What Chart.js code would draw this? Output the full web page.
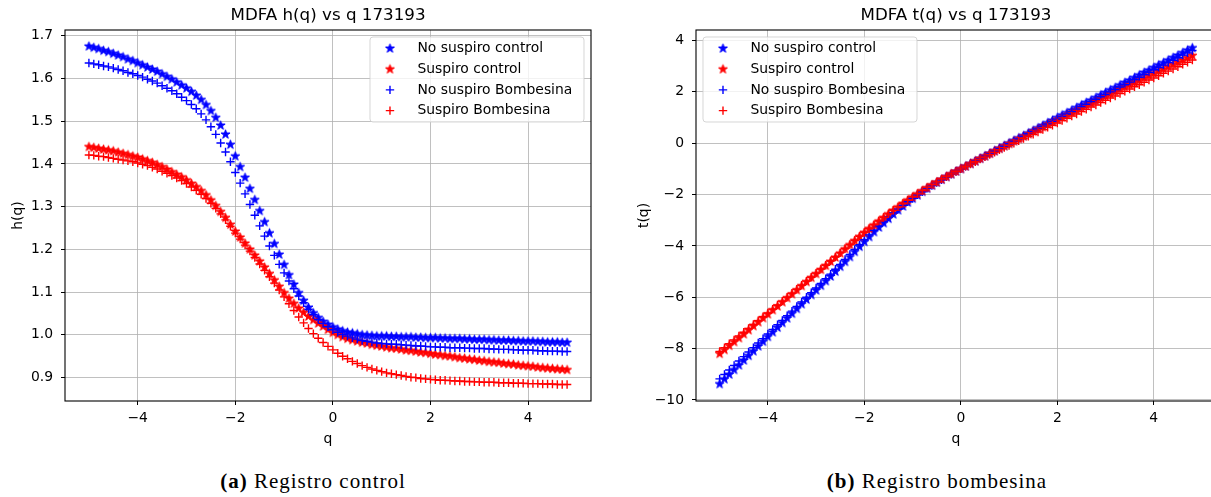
<!DOCTYPE html>
<html><head><meta charset="utf-8">
<script src="https://cdn.jsdelivr.net/npm/chart.js@4.4.0/dist/chart.umd.min.js"></script>
<style>
html,body{margin:0;padding:0;background:#fff;width:1211px;height:497px;overflow:hidden;}
#c1{position:absolute;left:0;top:0;}
#c2{position:absolute;left:605px;top:0;}
.cap{position:absolute;top:469px;font-family:"Liberation Serif",serif;font-size:21px;letter-spacing:1px;color:#000;white-space:nowrap;transform:translateX(-50%);}
</style></head><body>
<canvas id="c1" width="605" height="450"></canvas>
<canvas id="c2" width="620" height="450"></canvas>
<div class="cap" style="left:313px"><b>(a)</b> Registro control</div>
<div class="cap" style="left:937px"><b>(b)</b> Registro bombesina</div>
<script>
const q = [-5.0,-4.9,-4.8,-4.7,-4.6,-4.5,-4.4,-4.3,-4.2,-4.1,-4.0,-3.9,-3.8,-3.7,-3.6,-3.5,-3.4,-3.3,-3.2,-3.1,-3.0,-2.9,-2.8,-2.7,-2.6,-2.5,-2.4,-2.3,-2.2,-2.1,-2.0,-1.9,-1.8,-1.7,-1.6,-1.5,-1.4,-1.3,-1.2,-1.1,-1.0,-0.9,-0.8,-0.7,-0.6,-0.5,-0.4,-0.3,-0.2,-0.1,0.0,0.1,0.2,0.3,0.4,0.5,0.6,0.7,0.8,0.9,1.0,1.1,1.2,1.3,1.4,1.5,1.6,1.7,1.8,1.9,2.0,2.1,2.2,2.3,2.4,2.5,2.6,2.7,2.8,2.9,3.0,3.1,3.2,3.3,3.4,3.5,3.6,3.7,3.8,3.9,4.0,4.1,4.2,4.3,4.4,4.5,4.6,4.7,4.8];

const seriesLabels = ['No suspiro control','Suspiro control','No suspiro Bombesina','Suspiro Bombesina'];

// h(q) - Registro control
const hNoSuspiroControl = [1.675,1.672,1.669,1.665,1.662,1.658,1.654,1.650,1.645,1.641,
1.636,1.631,1.626,1.621,1.616,1.610,1.604,1.598,1.591,1.584,
1.577,1.569,1.560,1.550,1.538,1.524,1.508,1.490,1.469,1.445,
1.418,1.393,1.368,1.342,1.316,1.290,1.264,1.238,1.213,1.188,
1.164,1.140,1.118,1.098,1.080,1.064,1.051,1.040,1.031,1.024,
1.018,1.013,1.009,1.006,1.004,1.002,1.000,0.999,0.998,0.997,
0.997,0.997,0.996,0.996,0.995,0.995,0.995,0.994,0.994,0.993,
0.993,0.993,0.992,0.992,0.991,0.991,0.991,0.990,0.990,0.989,
0.989,0.989,0.988,0.988,0.987,0.987,0.987,0.986,0.986,0.985,
0.985,0.985,0.984,0.984,0.983,0.983,0.983,0.982,0.982];
const hSuspiroControl = [1.440,1.438,1.436,1.434,1.432,1.430,1.427,1.424,1.421,1.418,
1.415,1.411,1.407,1.403,1.398,1.393,1.387,1.381,1.375,1.369,
1.362,1.354,1.346,1.337,1.327,1.315,1.302,1.288,1.274,1.258,
1.242,1.228,1.214,1.200,1.186,1.172,1.158,1.143,1.128,1.113,
1.098,1.085,1.073,1.062,1.052,1.043,1.035,1.027,1.020,1.012,
1.005,1.000,0.995,0.991,0.988,0.985,0.982,0.980,0.977,0.975,
0.973,0.971,0.969,0.968,0.966,0.964,0.963,0.961,0.959,0.958,
0.956,0.954,0.953,0.951,0.950,0.948,0.946,0.945,0.943,0.942,
0.940,0.939,0.937,0.936,0.935,0.933,0.932,0.931,0.929,0.928,
0.927,0.926,0.924,0.923,0.922,0.921,0.920,0.919,0.918];
const hNoSuspiroBombesina = [1.636,1.634,1.632,1.629,1.627,1.624,1.621,1.618,1.614,1.611,
1.607,1.603,1.598,1.594,1.589,1.583,1.577,1.571,1.564,1.556,
1.548,1.539,1.529,1.517,1.503,1.487,1.469,1.449,1.428,1.405,
1.380,1.355,1.330,1.305,1.280,1.255,1.231,1.208,1.186,1.165,
1.145,1.126,1.108,1.091,1.075,1.060,1.047,1.036,1.027,1.019,
1.012,1.006,1.001,0.997,0.993,0.990,0.987,0.985,0.983,0.981,
0.980,0.979,0.978,0.978,0.977,0.976,0.975,0.974,0.974,0.973,
0.972,0.972,0.971,0.971,0.970,0.970,0.970,0.969,0.969,0.968,
0.968,0.968,0.967,0.967,0.966,0.966,0.966,0.965,0.965,0.964,
0.964,0.964,0.963,0.963,0.962,0.962,0.962,0.961,0.961];
const hSuspiroBombesina = [1.421,1.420,1.418,1.417,1.415,1.413,1.411,1.409,1.407,1.405,
1.402,1.399,1.396,1.392,1.388,1.383,1.378,1.373,1.367,1.361,
1.354,1.346,1.338,1.329,1.319,1.308,1.296,1.283,1.269,1.254,
1.238,1.224,1.210,1.196,1.181,1.166,1.151,1.136,1.121,1.105,
1.089,1.073,1.057,1.042,1.028,1.015,1.003,0.992,0.982,0.973,
0.965,0.957,0.950,0.944,0.938,0.933,0.928,0.924,0.920,0.917,
0.914,0.911,0.909,0.907,0.905,0.903,0.901,0.900,0.898,0.897,
0.896,0.895,0.894,0.894,0.893,0.892,0.892,0.891,0.891,0.890,
0.890,0.889,0.889,0.889,0.888,0.888,0.888,0.887,0.887,0.887,
0.886,0.886,0.886,0.885,0.885,0.885,0.884,0.884,0.884];

// t(q) - Registro bombesina
const tNoSuspiroControl = [-9.38,-9.19,-9.01,-8.83,-8.65,-8.46,-8.28,-8.10,-7.91,-7.73,
-7.54,-7.36,-7.18,-7.00,-6.82,-6.64,-6.45,-6.27,-6.09,-5.91,
-5.73,-5.55,-5.37,-5.19,-5.00,-4.81,-4.62,-4.43,-4.23,-4.03,
-3.84,-3.65,-3.46,-3.28,-3.11,-2.94,-2.77,-2.61,-2.46,-2.31,
-2.16,-2.03,-1.89,-1.77,-1.65,-1.53,-1.42,-1.31,-1.21,-1.10,
-1.00,-0.90,-0.80,-0.70,-0.60,-0.50,-0.40,-0.30,-0.20,-0.10,
0.00,0.10,0.20,0.29,0.39,0.49,0.59,0.69,0.79,0.89,
0.99,1.09,1.18,1.28,1.38,1.48,1.58,1.67,1.77,1.87,
1.97,2.07,2.16,2.26,2.36,2.45,2.55,2.65,2.75,2.84,
2.94,3.04,3.13,3.23,3.33,3.42,3.52,3.62,3.71];
const tSuspiroControl = [-8.20,-8.05,-7.89,-7.74,-7.59,-7.44,-7.28,-7.12,-6.97,-6.81,
-6.66,-6.50,-6.35,-6.19,-6.03,-5.88,-5.72,-5.56,-5.40,-5.24,
-5.09,-4.93,-4.77,-4.61,-4.45,-4.29,-4.12,-3.96,-3.80,-3.64,
-3.48,-3.33,-3.19,-3.04,-2.90,-2.76,-2.62,-2.49,-2.35,-2.22,
-2.10,-1.98,-1.86,-1.74,-1.63,-1.52,-1.41,-1.31,-1.20,-1.10,
-1.00,-0.90,-0.80,-0.70,-0.60,-0.51,-0.41,-0.31,-0.22,-0.12,
-0.03,0.07,0.16,0.26,0.35,0.45,0.54,0.63,0.73,0.82,
0.91,1.00,1.10,1.19,1.28,1.37,1.46,1.55,1.64,1.73,
1.82,1.91,2.00,2.09,2.18,2.27,2.36,2.44,2.53,2.62,
2.71,2.80,2.88,2.97,3.06,3.14,3.23,3.32,3.41];
const tNoSuspiroBombesina = [-9.18,-9.01,-8.83,-8.66,-8.48,-8.31,-8.13,-7.96,-7.78,-7.61,
-7.43,-7.25,-7.07,-6.90,-6.72,-6.54,-6.36,-6.18,-6.00,-5.82,
-5.64,-5.46,-5.28,-5.10,-4.91,-4.72,-4.53,-4.33,-4.14,-3.95,
-3.76,-3.57,-3.39,-3.22,-3.05,-2.88,-2.72,-2.57,-2.42,-2.28,
-2.15,-2.01,-1.89,-1.76,-1.65,-1.53,-1.42,-1.31,-1.21,-1.10,
-1.00,-0.90,-0.80,-0.70,-0.60,-0.51,-0.41,-0.31,-0.21,-0.12,
-0.02,0.08,0.17,0.27,0.37,0.46,0.56,0.66,0.75,0.85,
0.94,1.04,1.14,1.23,1.33,1.43,1.52,1.62,1.71,1.81,
1.90,2.00,2.09,2.19,2.28,2.38,2.48,2.57,2.67,2.76,
2.86,2.95,3.04,3.14,3.23,3.33,3.43,3.52,3.61];
const tSuspiroBombesina = [-8.11,-7.96,-7.81,-7.66,-7.51,-7.36,-7.21,-7.06,-6.91,-6.76,
-6.61,-6.46,-6.30,-6.15,-6.00,-5.84,-5.69,-5.53,-5.37,-5.22,
-5.06,-4.90,-4.75,-4.59,-4.43,-4.27,-4.11,-3.95,-3.79,-3.63,
-3.48,-3.33,-3.18,-3.03,-2.89,-2.75,-2.61,-2.48,-2.35,-2.22,
-2.09,-1.97,-1.85,-1.73,-1.62,-1.51,-1.40,-1.30,-1.20,-1.10,
-1.00,-0.90,-0.81,-0.72,-0.62,-0.53,-0.44,-0.35,-0.26,-0.17,
-0.09,0.00,0.09,0.18,0.27,0.35,0.44,0.53,0.62,0.70,
0.79,0.88,0.97,1.06,1.14,1.23,1.32,1.41,1.49,1.58,
1.67,1.76,1.84,1.93,2.02,2.11,2.20,2.28,2.37,2.46,
2.54,2.63,2.72,2.81,2.89,2.98,3.07,3.15,3.24];

const xTicks = [-4,-2,0,2,4];
const hTicks = [0.9,1.0,1.1,1.2,1.3,1.4,1.5,1.6,1.7];
const tTicks = [-10,-8,-6,-4,-2,0,2,4];

const FONT = 'DejaVu Sans';
const BLUE = '#0000ff', RED = '#ff0000';
const seriesColors = [BLUE, RED, BLUE, RED];
const seriesIsStar = [true, true, false, false];

function starImage(color){
  const c = document.createElement('canvas'); c.width = c.height = 13;
  const x = c.getContext('2d'); x.translate(6.5, 6.5);
  x.beginPath();
  for (let i = 0; i < 10; i++) {
    const r = i % 2 === 0 ? 4.7 : 4.7 * 0.382;
    const a = -Math.PI / 2 + i * Math.PI / 5;
    x.lineTo(r * Math.cos(a), r * Math.sin(a));
  }
  x.closePath(); x.fillStyle = color; x.fill();
  x.strokeStyle = color; x.lineWidth = 1; x.stroke();
  return c;
}
const starImgs = { [BLUE]: starImage(BLUE), [RED]: starImage(RED) };

function fmt(v, dec){ return (v < 0 ? '\u2212' : '') + Math.abs(v).toFixed(dec); }

function makeDatasets(ys){
  return ys.map((arr, i) => ({
    label: seriesLabels[i],
    data: q.map((x, j) => ({x: x, y: arr[j]})),
    showLine: false,
    pointStyle: seriesIsStar[i] ? starImgs[seriesColors[i]] : 'cross',
    pointRadius: 4.2,
    pointHoverRadius: 4.2,
    pointBorderWidth: 1.4,
    borderColor: seriesColors[i],
    backgroundColor: seriesColors[i],
    order: 3 - i
  }));
}

const framePlugin = {
  id: 'frame',
  afterDatasetsDraw(chart){
    const {ctx, chartArea: a} = chart;
    ctx.save(); ctx.strokeStyle = '#000'; ctx.lineWidth = 1.1;
    ctx.strokeRect(a.left, a.top, a.right - a.left, a.bottom - a.top);
    ctx.restore();
  }
};

const boxLegend = {
  id: 'boxLegend',
  afterDraw(chart, args, opts){
    const {ctx, chartArea: a} = chart;
    const ds = chart.data.datasets;
    ctx.save();
    ctx.font = '13.9px "' + FONT + '"';
    const tw = Math.max(...ds.map(d => ctx.measureText(d.label).width));
    const w = 47.4 + tw + 11.7, h = 85, row = 20.7;
    const x0 = opts.side === 'right' ? a.right - 7 - w : a.left + 7;
    const y0 = a.top + 7;
    ctx.globalAlpha = 0.8;
    ctx.beginPath(); ctx.roundRect(x0, y0, w, h, 3);
    ctx.fillStyle = '#fff'; ctx.fill();
    ctx.strokeStyle = '#cccccc'; ctx.lineWidth = 1; ctx.stroke();
    ctx.globalAlpha = 1;
    ds.forEach((d, i) => {
      const cy = y0 + 11.5 + i * row, cx = x0 + 20;
      const col = seriesColors[i];
      if (seriesIsStar[i]) {
        const im = starImgs[col];
        ctx.drawImage(im, cx - im.width / 2, cy - im.height / 2);
      } else {
        ctx.strokeStyle = col; ctx.lineWidth = 1.4;
        ctx.beginPath();
        ctx.moveTo(cx - 4.2, cy); ctx.lineTo(cx + 4.2, cy);
        ctx.moveTo(cx, cy - 4.2); ctx.lineTo(cx, cy + 4.2);
        ctx.stroke();
      }
      ctx.fillStyle = '#000'; ctx.textBaseline = 'middle'; ctx.textAlign = 'left';
      ctx.fillText(d.label, x0 + 47.4, cy);
    });
    ctx.restore();
  }
};

function makeChart(canvasId, cfg){
  return new Chart(document.getElementById(canvasId), {
    type: 'scatter',
    data: { datasets: makeDatasets(cfg.series) },
    plugins: [framePlugin, boxLegend],
    options: {
      responsive: false, animation: false, devicePixelRatio: 1,
      layout: { padding: { left: 0, top: 0, bottom: 0, right: cfg.padRight } },
      plugins: {
        legend: { display: false }, tooltip: { enabled: false },
        title: { display: true, text: cfg.title, fullSize: false, color: '#000',
                 font: { family: FONT, size: 16.7, weight: 'normal' }, padding: { top: 6, bottom: 3.96 } },
        boxLegend: { side: cfg.legendSide }
      },
      scales: {
        x: {
          type: 'linear', min: -5.49, max: 5.29,
          afterBuildTicks: s => { s.ticks = xTicks.map(v => ({value: v})); },
          afterFit: s => { s.height = 49; },
          border: { display: false },
          grid: { color: '#b0b0b0', lineWidth: 0.8, tickColor: '#000', tickLength: 4, tickWidth: 1 },
          ticks: { color: '#000', font: { family: FONT, size: 13.9 }, padding: 5.5, maxRotation: 0, autoSkip: false,
                   callback: v => fmt(v, 0) },
          title: { display: true, text: 'q', color: '#000', font: { family: FONT, size: 13.9 }, padding: { top: 0, bottom: 2 } }
        },
        y: {
          type: 'linear', min: cfg.ymin, max: cfg.ymax,
          afterBuildTicks: s => { s.ticks = cfg.yTicks.map(v => ({value: v})); },
          afterFit: s => { s.width = cfg.yWidth; },
          border: { display: false },
          grid: { color: '#b0b0b0', lineWidth: 0.8, tickColor: '#000', tickLength: 4, tickWidth: 1 },
          ticks: { color: '#000', font: { family: FONT, size: 13.9 }, padding: 8, autoSkip: false,
                   callback: v => fmt(v, cfg.yDec) },
          title: { display: true, text: cfg.yTitle, color: '#000', font: { family: FONT, size: 13.9 }, padding: { top: cfg.yTitlePad, bottom: 0 } }
        }
      }
    }
  });
}

makeChart('c1', {
  series: [hNoSuspiroControl, hSuspiroControl, hNoSuspiroBombesina, hSuspiroBombesina],
  title: 'MDFA h(q) vs q 173193', yTitle: 'h(q)', yTicks: hTicks, yDec: 1,
  ymin: 0.8453, ymax: 1.7133, yWidth: 65, yTitlePad: 10, padRight: 14, legendSide: 'right'
});
makeChart('c2', {
  series: [tNoSuspiroControl, tSuspiroControl, tNoSuspiroBombesina, tSuspiroBombesina],
  title: 'MDFA t(q) vs q 173193', yTitle: 't(q)', yTicks: tTicks, yDec: 0,
  ymin: -10.04, ymax: 4.41, yWidth: 91, yTitlePad: 31, padRight: 9, legendSide: 'left'
});
</script>
</body></html>
